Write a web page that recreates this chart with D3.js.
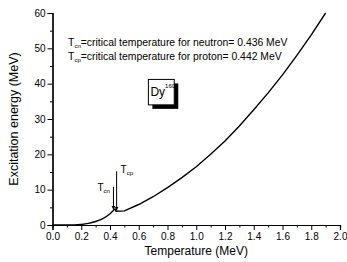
<!DOCTYPE html>
<html>
<head>
<meta charset="utf-8">
<script src="https://cdn.jsdelivr.net/npm/d3@7"></script>
<style>
  body { margin: 0; background: #fff; }
  svg { font-family: "Liberation Sans", Arial, sans-serif; }
</style>
</head>
<body>
<div id="chart"></div>
<script>
// excitation energy vs temperature
var temps = [0.0, 0.1, 0.15, 0.2, 0.25, 0.3, 0.35, 0.4, 0.436, 0.442, 0.5, 0.6, 0.7, 0.8, 0.9, 1.0,
  1.1, 1.2, 1.3, 1.4, 1.5, 1.6, 1.7, 1.8, 1.9];
var energies = [0, 0, 0.02, 0.15, 0.45, 1.0, 1.8, 3.2, 4.6, 3.9, 4.0, 5.8, 8.0, 10.6, 13.4, 16.5,
  20.0, 23.8, 28.0, 32.6, 37.4, 42.5, 48.0, 53.8, 60.0];
var xTicks = [0.0, 0.2, 0.4, 0.6, 0.8, 1.0, 1.2, 1.4, 1.6, 1.8, 2.0];
var yTicks = [0, 10, 20, 30, 40, 50, 60];
var notes = [
  { sub: "cn", text: "=critical temperature for neutron= 0.436 MeV" },
  { sub: "cp", text: "=critical temperature for proton= 0.442 MeV" }
];
var arrows = [
  { sub: "cn", t: 0.424, from: 10.8, to: 4.3 },
  { sub: "cp", t: 0.446, from: 15.2, to: 4.1 }
];

var width = 347, height = 262;
var margin = { top: 13, right: 7, bottom: 37, left: 52.5 };

var svg = d3.select("#chart").append("svg")
  .attr("width", width)
  .attr("height", height);

var x = d3.scaleLinear().domain([0, 2]).range([margin.left, width - margin.right]);
var y = d3.scaleLinear().domain([0, 60]).range([height - margin.bottom, margin.top]);

// x axis (major + minor ticks)
var gx = svg.append("g")
  .attr("transform", "translate(0," + y(0) + ")");
gx.call(d3.axisBottom(x).tickValues(d3.range(0.1, 2, 0.2)).tickSize(2.5).tickFormat(""));
gx.call(function (g) {
  g.append("g").call(d3.axisBottom(x).tickValues(xTicks).tickSize(5).tickPadding(3)
    .tickFormat(d3.format(".1f")));
});
gx.selectAll("text").attr("font-size", 10).attr("fill", "#000").attr("font-family", "Liberation Sans, Arial, sans-serif");

var gy = svg.append("g")
  .attr("transform", "translate(" + x(0) + ",0)");
gy.call(d3.axisLeft(y).tickValues(d3.range(5, 60, 10)).tickSize(2.5).tickFormat(""));
gy.call(function (g) {
  g.append("g").call(d3.axisLeft(y).tickValues(yTicks).tickSize(5).tickPadding(2));
});
gy.selectAll("text").attr("font-size", 10).attr("fill", "#000").attr("font-family", "Liberation Sans, Arial, sans-serif");
svg.selectAll(".domain").attr("stroke", "#000").attr("stroke-width", 1.2);
svg.selectAll(".tick line").attr("stroke", "#000").attr("stroke-width", 1);

// axis titles
svg.append("text")
  .attr("x", (x(0) + x(2)) / 2)
  .attr("y", 255)
  .attr("text-anchor", "middle")
  .attr("font-size", 12)
  .text("Temperature (MeV)");

svg.append("text")
  .attr("transform", "translate(18," + (y(30)) + ") rotate(-90)")
  .attr("text-anchor", "middle")
  .attr("font-size", 12.5)
  .text("Excitation energy (MeV)");

// curve
var pts = temps.map(function (t, i) { return [t, energies[i]]; });
var line = d3.line()
  .x(function (d) { return x(d[0]); })
  .y(function (d) { return y(d[1]); })
  .curve(d3.curveMonotoneX);

svg.append("path")
  .datum(pts.slice(0, 9))
  .attr("fill", "none")
  .attr("stroke", "#000")
  .attr("stroke-width", 1.4)
  .attr("d", line);
svg.append("path")
  .datum(pts.slice(8))
  .attr("fill", "none")
  .attr("stroke", "#000")
  .attr("stroke-width", 1.4)
  .attr("d", d3.line().x(function (d) { return x(d[0]); }).y(function (d) { return y(d[1]); })
    .curve(d3.curveLinear));

// legend notes
notes.forEach(function (n, i) {
  var t = svg.append("text")
    .attr("x", x(0.108))
    .attr("y", y(50.8 - i * 4.1))
    .attr("font-size", 10.4);
  t.append("tspan").text("T");
  t.append("tspan").attr("font-size", 6).attr("dy", 2.5).text(n.sub);
  t.append("tspan").attr("dy", -2.5).text(n.text);
});

// Dy box with shadow
var bx0 = x(0.667), bx1 = x(0.847), by0 = y(41.2), by1 = y(34.0);
svg.append("rect")
  .attr("x", bx0 + 4).attr("y", by0 + 4)
  .attr("width", bx1 - bx0).attr("height", by1 - by0)
  .attr("fill", "#000");
svg.append("rect")
  .attr("x", bx0).attr("y", by0)
  .attr("width", bx1 - bx0).attr("height", by1 - by0)
  .attr("fill", "#fff").attr("stroke", "#000").attr("stroke-width", 1);
var dy = svg.append("text")
  .attr("x", bx0 + 2)
  .attr("y", by0 + 17)
  .attr("font-size", 12);
dy.append("tspan").text("Dy");
dy.append("tspan").attr("font-size", 6).attr("dy", -8).text("160");

// arrows marking critical temperatures
svg.append("defs").append("marker")
  .attr("id", "head")
  .attr("viewBox", "0 0 10 10")
  .attr("refX", 10).attr("refY", 5)
  .attr("markerWidth", 4).attr("markerHeight", 5)
  .attr("orient", "auto")
  .append("path")
  .attr("d", "M0,0L10,5L0,10z")
  .attr("fill", "#000");

arrows.forEach(function (a) {
  svg.append("line")
    .attr("x1", x(a.t)).attr("x2", x(a.t))
    .attr("y1", y(a.from)).attr("y2", y(a.to))
    .attr("stroke", "#000")
    .attr("stroke-width", 1)
    .attr("marker-end", "url(#head)");
  var lab = svg.append("text")
    .attr("x", a.sub === "cn" ? x(a.t) - 16 : x(a.t) + 4)
    .attr("y", a.sub === "cn" ? y(a.from) + 4 : y(a.from) + 2)
    .attr("font-size", 10);
  lab.append("tspan").text("T");
  lab.append("tspan").attr("font-size", 6).attr("dy", 2).text(a.sub);
});
</script>
</body>
</html>
